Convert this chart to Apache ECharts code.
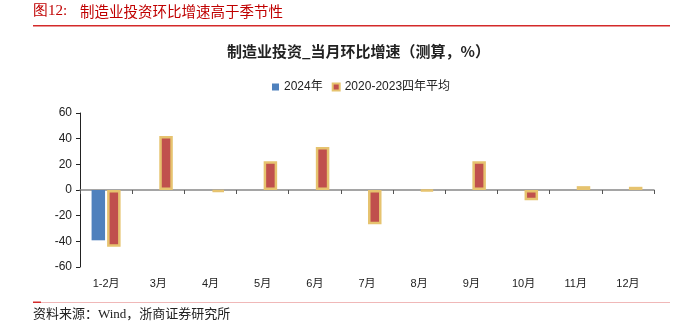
<!DOCTYPE html>
<html>
<head>
<meta charset="utf-8">
<script src="https://cdn.jsdelivr.net/npm/echarts@6/dist/echarts.min.js"></script>
<style>
  html, body { margin: 0; padding: 0; background: #fff; }
  #chart { width: 678px; height: 331px; }
</style>
</head>
<body>
<div id="chart"></div>
<script>
// Monthly month-on-month growth of manufacturing investment (estimated, %)
const categories = ['1-2月', '3月', '4月', '5月', '6月', '7月', '8月', '9月', '10月', '11月', '12月'];
const series2024 = [-39.2, null, null, null, null, null, null, null, null, null, null];
const seriesAvg = [-44.3, 42, -1.5, 22.5, 33.5, -26.6, -0.8, 22.5, -8, 3, 2.5];
const yTicks = { min: -60, max: 60, interval: 20 };

const chart = echarts.init(document.getElementById('chart'));
const sans = '"Liberation Sans", Arial, "Noto Sans CJK SC", sans-serif';
const cjk = '"Noto Sans CJK SC", sans-serif';

chart.setOption({
  animation: false,
  backgroundColor: '#fff',
  title: {
    text: '制造业投资_当月环比增速（测算，%）',
    left: 222,
    top: 39,
    textStyle: { fontFamily: cjk, fontSize: 15, fontWeight: 'bold', color: '#222' }
  },
  legend: {
    left: 267,
    top: 76,
    icon: 'rect',
    itemWidth: 7,
    itemHeight: 7,
    itemGap: 9,
    textStyle: { fontFamily: sans, fontSize: 12, color: '#222' },
    data: ['2024年', '2020-2023四年平均']
  },
  grid: { left: 80, right: 24, top: 113, bottom: 64 },
  xAxis: [
    {
      type: 'category',
      data: categories,
      position: 'bottom',
      axisLine: { show: false, onZero: false },
      axisTick: { show: false },
      axisLabel: { fontFamily: sans, fontSize: 11, color: '#222', margin: 11 }
    },
    {
      type: 'category',
      data: categories,
      position: 'bottom',
      z: 1,
      axisLine: { show: true, onZero: true, lineStyle: { color: '#888', width: 1.5 } },
      axisTick: { show: true, length: 4, lineStyle: { color: '#555' } },
      axisLabel: { show: false }
    }
  ],
  yAxis: {
    type: 'value',
    min: yTicks.min,
    max: yTicks.max,
    interval: yTicks.interval,
    axisLine: { show: true, lineStyle: { color: '#222', width: 1 } },
    axisTick: { show: true, length: 4, lineStyle: { color: '#222' } },
    splitLine: { show: false },
    axisLabel: { fontFamily: sans, fontSize: 12, color: '#222', margin: 8 }
  },
  series: [
    {
      name: '2024年',
      type: 'bar',
      data: series2024,
      barWidth: 13.5,
      barGap: '15%',
      z: 3,
      itemStyle: { color: '#4F81BD' }
    },
    {
      name: '2020-2023四年平均',
      type: 'bar',
      data: seriesAvg,
      barWidth: 13.5,
      z: 3,
      itemStyle: { color: '#C0504D', borderColor: '#E6C36F', borderWidth: 2.5 }
    }
  ],
  graphic: [
    {
      type: 'text', left: 33, top: 4,
      style: { text: '图12:', fontFamily: '"Liberation Serif", serif', fontSize: 15, fill: '#C00000' }
    },
    {
      type: 'text', left: 80, top: 4,
      style: { text: '制造业投资环比增速高于季节性', fontFamily: cjk, fontSize: 14.5, fill: '#C00000' }
    },
    {
      type: 'rect', shape: { x: 33, y: 25, width: 637, height: 1.5 },
      style: { fill: '#D42A2A' }
    },
    {
      type: 'rect', shape: { x: 33, y: 302, width: 637, height: 1 },
      style: { fill: '#F0B8B8' }
    },
    {
      type: 'rect', shape: { x: 33, y: 301.5, width: 8, height: 1.5 },
      style: { fill: '#D42A2A' }
    },
    {
      type: 'text', left: 33, top: 308,
      style: { text: '资料来源：Wind，浙商证券研究所', fontFamily: '"Liberation Serif", "Noto Sans CJK SC", serif', fontSize: 13, fill: '#222' }
    }
  ]
});
</script>
</body>
</html>
